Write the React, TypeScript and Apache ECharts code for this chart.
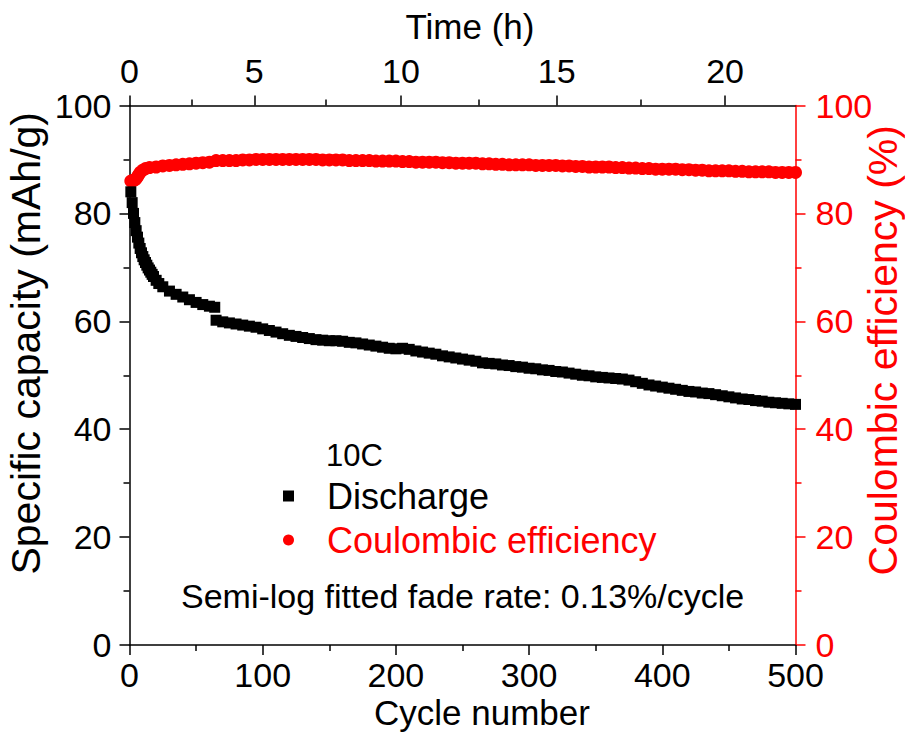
import React, { useEffect, useRef } from "react";
import * as echarts from "echarts";

// Discharge capacity (mAh/g) vs cycle number
const CYCLES_DIS = [
  1, 2, 3, 4, 5, 6, 7, 8, 9, 10, 11, 12, 13, 14, 15, 16, 17, 18, 20, 22,
  25, 30, 35, 40, 45, 50, 55, 60, 64,
  65, 70, 75, 80, 85, 90, 95, 100, 105, 110, 115, 120, 125, 130, 135, 140, 145, 150,
  155, 160, 165, 170, 175, 180, 185, 190, 195, 200, 205, 210, 215, 220, 225, 230,
  235, 240, 245, 250, 255, 260, 265, 270, 275, 280, 285, 290, 295, 300, 305, 310,
  315, 320, 325, 330, 335, 340, 345, 350, 355, 360, 365, 370, 375, 380, 385, 390,
  395, 400, 405, 410, 415, 420, 425, 430, 435, 440, 445, 450, 455, 460, 465, 470,
  475, 480, 485, 490, 495, 500,
];
const DISCHARGE = [
  84.0, 82.0, 80.0, 78.3, 76.8, 75.6, 74.5, 73.5, 72.7, 72.0, 71.4, 70.9, 70.4, 69.9, 69.5, 69.1, 68.7, 68.3, 67.6, 67.0,
  66.4, 65.6, 65.0, 64.5, 64.0, 63.5, 63.1, 62.8, 62.6,
  60.2, 59.9, 59.7, 59.5, 59.3, 59.1, 58.9, 58.6, 58.3, 58.0, 57.7, 57.4, 57.2, 57.0, 56.8, 56.6, 56.5, 56.4,
  56.4, 56.3, 56.1, 56.0, 55.8, 55.6, 55.4, 55.2, 55.0, 54.9, 55.0, 54.8, 54.5, 54.3, 54.1, 53.9,
  53.6, 53.4, 53.2, 53.0, 52.8, 52.6, 52.3, 52.2, 52.1, 51.9, 51.8, 51.6, 51.5, 51.3, 51.2, 51.0,
  50.9, 50.7, 50.6, 50.4, 50.2, 50.0, 49.9, 49.7, 49.6, 49.5, 49.4, 49.3, 49.1, 48.8, 48.5, 48.2,
  48.0, 47.8, 47.6, 47.4, 47.2, 47.0, 46.9, 46.7, 46.6, 46.4, 46.2, 46.0, 45.8, 45.6, 45.5, 45.3,
  45.2, 45.0, 44.9, 44.8, 44.7, 44.6,
];

// Coulombic efficiency (%) vs cycle number
const CYCLES_CE = [
  1, 2, 3, 4, 5, 6, 7, 8, 10, 12, 15, 20, 25, 30, 35, 40, 45, 50, 55, 60,
  65, 70, 75, 80, 85, 90, 95, 100, 105, 110, 115, 120, 125, 130, 135, 140, 145, 150,
  155, 160, 165, 170, 175, 180, 185, 190, 195, 200, 205, 210, 215, 220, 225, 230,
  235, 240, 245, 250, 255, 260, 265, 270, 275, 280, 285, 290, 295, 300, 305, 310,
  315, 320, 325, 330, 335, 340, 345, 350, 355, 360, 365, 370, 375, 380, 385, 390,
  395, 400, 405, 410, 415, 420, 425, 430, 435, 440, 445, 450, 455, 460, 465, 470,
  475, 480, 485, 490, 495, 500,
];
const CE = [
  86.0, 86.0, 86.1, 86.2, 86.4, 86.8, 87.2, 87.6, 88.0, 88.3, 88.5, 88.6, 88.8, 88.9, 89.0, 89.1, 89.2, 89.3, 89.4, 89.5,
  89.8, 89.8, 89.8, 89.8, 89.9, 89.9, 90.0, 90.0, 90.0, 90.0, 90.0, 90.0, 90.0, 90.0, 90.0, 90.0, 89.9, 89.9,
  89.9, 89.9, 89.8, 89.8, 89.8, 89.8, 89.7, 89.7, 89.7, 89.7, 89.6, 89.6, 89.5, 89.5, 89.5, 89.5,
  89.4, 89.4, 89.3, 89.3, 89.3, 89.3, 89.2, 89.2, 89.1, 89.1, 89.0, 89.0, 89.0, 89.0, 88.9, 88.9,
  88.9, 88.9, 88.8, 88.8, 88.7, 88.7, 88.6, 88.6, 88.6, 88.6, 88.5, 88.5, 88.4, 88.4, 88.3, 88.3,
  88.2, 88.2, 88.2, 88.2, 88.1, 88.1, 88.0, 88.0, 87.9, 87.9, 87.9, 87.9, 87.8, 87.8, 87.7, 87.7,
  87.7, 87.7, 87.6, 87.6, 87.6, 87.6,
];

// Top (time) axis: hour labels and the cycle numbers where they fall
const TIME_LABELS = [0, 5, 10, 15, 20];
const TIME_TICK_CYCLES = [0, 93.7, 203.8, 320.7, 447.1];
const TIME_MINOR_CYCLES = [47.1, 147.2, 262.2, 383.8];

const FONT = "'Liberation Sans', Arial, sans-serif";

export default function App() {
  const ref = useRef<HTMLDivElement>(null);
  useEffect(() => {
    if (!ref.current) return;
    const chart = echarts.init(ref.current, undefined, { renderer: "svg" });
    const black = "#000000";
    const red = "#ff0000";
    const axisLineBlack = { show: true, onZero: false, lineStyle: { color: black, width: 1.5 } };
    const option: any = {
      animation: false,
      textStyle: { fontFamily: FONT },
      grid: {
        left: 129.5,
        right: 109.5,
        top: 105.5,
        bottom: 90,
        containLabel: false,
        outerBoundsMode: "none",
      },
      xAxis: [
        {
          type: "value",
          position: "bottom",
          min: 0,
          max: 500,
          interval: 100,
          axisLine: axisLineBlack,
          axisTick: { show: true, length: 10, lineStyle: { color: black, width: 1.5 } },
          minorTick: { show: true, splitNumber: 2, length: 6, lineStyle: { color: black, width: 1.5 } },
          splitLine: { show: false },
          axisLabel: { fontSize: 34, color: black, margin: 13, fontFamily: FONT },
          name: "Cycle number",
          nameLocation: "middle",
          nameGap: 50,
          nameMoveOverlap: false,
          nameTextStyle: { fontSize: 35, color: black, fontFamily: FONT, padding: [0, 0, 0, 39] },
        },
        {
          type: "value",
          position: "top",
          min: 0,
          max: 500,
          axisLine: axisLineBlack,
          axisTick: {
            show: true,
            length: 10,
            customValues: TIME_TICK_CYCLES,
            lineStyle: { color: black, width: 1.5 },
          },
          splitLine: { show: false },
          axisLabel: {
            fontSize: 34,
            color: black,
            margin: 18,
            fontFamily: FONT,
            customValues: TIME_TICK_CYCLES,
            formatter: (v: number) => {
              const i = TIME_TICK_CYCLES.findIndex((c) => Math.abs(c - v) < 0.01);
              return i >= 0 ? String(TIME_LABELS[i]) : "";
            },
          },
          name: "Time (h)",
          nameLocation: "middle",
          nameGap: 62,
          nameMoveOverlap: false,
          nameTextStyle: { fontSize: 35, color: black, fontFamily: FONT, padding: [0, 0, 0, 15] },
        },
        {
          type: "value",
          position: "top",
          min: 0,
          max: 500,
          axisLine: { show: false, onZero: false },
          axisTick: {
            show: true,
            length: 6,
            customValues: TIME_MINOR_CYCLES,
            lineStyle: { color: black, width: 1.5 },
          },
          axisLabel: { show: false },
          splitLine: { show: false },
        },
      ],
      yAxis: [
        {
          type: "value",
          position: "left",
          min: 0,
          max: 100,
          interval: 20,
          axisLine: axisLineBlack,
          axisTick: { show: true, length: 10, lineStyle: { color: black, width: 1.5 } },
          minorTick: { show: true, splitNumber: 2, length: 6, lineStyle: { color: black, width: 1.5 } },
          splitLine: { show: false },
          axisLabel: { fontSize: 34, color: black, margin: 18, fontFamily: FONT },
          name: "Specific capacity (mAh/g)",
          nameLocation: "middle",
          nameRotate: 90,
          nameGap: 83,
          nameMoveOverlap: false,
          nameTextStyle: { fontSize: 41, color: black, fontFamily: FONT, padding: [0, 0, 0, 64] },
        },
        {
          type: "value",
          position: "right",
          min: 0,
          max: 100,
          interval: 20,
          axisLine: { show: true, onZero: false, lineStyle: { color: red, width: 1.5 } },
          axisTick: { show: true, length: 10, lineStyle: { color: red, width: 1.5 } },
          minorTick: { show: true, splitNumber: 2, length: 6, lineStyle: { color: red, width: 1.5 } },
          splitLine: { show: false },
          axisLabel: { fontSize: 34, color: red, margin: 20, fontFamily: FONT },
          name: "Coulombic efficiency (%)",
          nameLocation: "middle",
          nameRotate: 90,
          nameGap: 67,
          nameMoveOverlap: false,
          nameTextStyle: { fontSize: 41, color: red, fontFamily: FONT, padding: [0, 0, 0, 50] },
        },
      ],
      legend: {
        orient: "vertical",
        left: 278,
        top: 473,
        itemWidth: 11,
        itemHeight: 11,
        itemGap: 8,
        textStyle: { fontSize: 36, fontFamily: FONT, padding: [0, 0, 0, 28] },
        data: [
          { name: "Discharge", icon: "rect", itemStyle: { opacity: 1 }, textStyle: { color: black } },
          { name: "Coulombic efficiency", icon: "circle", itemStyle: { opacity: 1 }, textStyle: { color: red } },
        ],
      },
      graphic: [
        {
          type: "text",
          left: 326,
          top: 440,
          style: { text: "10C", fontSize: 31, fill: black, fontFamily: FONT },
        },
        {
          type: "text",
          left: 181,
          top: 579,
          style: {
            text: "Semi-log fitted fade rate: 0.13%/cycle",
            fontSize: 34,
            fill: black,
            fontFamily: FONT,
          },
        },
      ],
      series: [
        {
          name: "Coulombic efficiency",
          type: "scatter",
          xAxisIndex: 0,
          yAxisIndex: 1,
          symbol: "circle",
          symbolSize: 13,
          itemStyle: { color: red, opacity: 1 },
          data: CYCLES_CE.map((c, i) => [c, CE[i]]),
        },
        {
          name: "Discharge",
          type: "scatter",
          xAxisIndex: 0,
          yAxisIndex: 0,
          symbol: "rect",
          symbolSize: 11,
          itemStyle: { color: black, opacity: 1 },
          data: CYCLES_DIS.map((c, i) => [c, DISCHARGE[i]]),
        },
      ],
    };
    chart.setOption(option);
    return () => chart.dispose();
  }, []);
  return (
    <div
      ref={ref}
      style={{ position: "absolute", left: 0, top: 0, width: 905, height: 735, background: "#fff" }}
    />
  );
}
